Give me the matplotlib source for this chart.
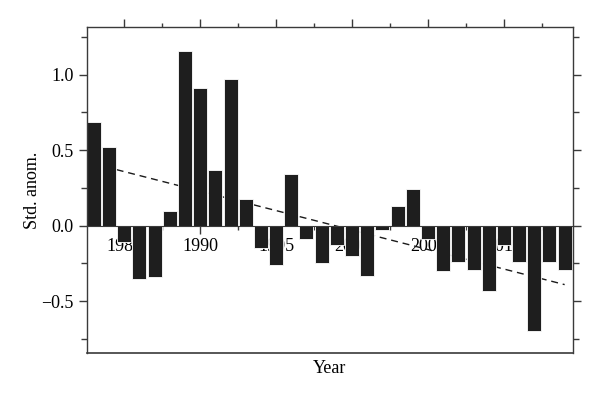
import matplotlib
matplotlib.use("Agg")
import matplotlib.pyplot as plt
from matplotlib.ticker import MultipleLocator

years = list(range(1983, 2015))
anom = [0.69, 0.52, -0.11, -0.35, -0.34, 0.10, 1.16, 0.91, 0.37, 0.97,
        0.18, -0.15, -0.26, 0.34, -0.09, -0.25, -0.13, -0.20, -0.33, -0.03,
        0.13, 0.24, -0.09, -0.30, -0.24, -0.29, -0.43, -0.13, -0.24, -0.70,
        -0.24, -0.29]
trend_years = [1983, 2014]
trend_vals = [0.41, -0.39]

plt.rcParams['font.family'] = ['Liberation Serif', 'DejaVu Serif']
plt.rcParams['font.size'] = 13

fig = plt.figure(figsize=(6.0, 3.95), dpi=100)
ax = fig.add_axes([0.145, 0.1063, 0.81, 0.8253])
ax.set_axisbelow(True)

bar_color = '#1e1e1e'
spine_color = '#3a3a3a'

ax.bar(years, anom, width=0.92, color=bar_color, edgecolor='white',
       linewidth=0.6, zorder=2)
ax.plot(trend_years, trend_vals, color='#1a1a1a', lw=1.0,
        linestyle=(0, (5, 3.5)), zorder=1)

ax.set_xlim(1982.55, 2014.55)
ax.set_ylim(-0.843, 1.316)

for s in ax.spines.values():
    s.set_color(spine_color)
    s.set_linewidth(1.0)
ax.spines['bottom'].set_position(('data', 0))
ax.spines['bottom'].set_linewidth(0.8)
# bottom frame line
ax.plot([0, 1], [0, 0], transform=ax.transAxes, color=spine_color, lw=1.2,
        clip_on=False, zorder=3)

ax.xaxis.set_major_locator(MultipleLocator(5))
ax.xaxis.set_minor_locator(MultipleLocator(2.5))
ax.yaxis.set_major_locator(MultipleLocator(0.5))
ax.yaxis.set_minor_locator(MultipleLocator(0.25))

ax.tick_params(axis='x', which='both', direction='out', top=True,
               bottom=True, labelbottom=True, color=spine_color, pad=3)
ax.tick_params(axis='x', which='major', length=6, width=1)
ax.tick_params(axis='x', which='minor', length=3, width=1)
ax.tick_params(axis='y', which='both', direction='out', left=True,
               right=True, color=spine_color)
ax.tick_params(axis='y', which='major', length=6, width=1)
ax.tick_params(axis='y', which='minor', length=4, width=1)

ax.set_xticks([1985, 1990, 1995, 2000, 2005, 2010])
ax.set_xticklabels(['1985', '1990', '1995', '2000', '2005', '2010'])
ax.set_yticks([-0.5, 0.0, 0.5, 1.0])
ax.set_yticklabels(['\u22120.5', '0.0', '0.5', '1.0'])

ax.set_ylabel('Std. anom.', labelpad=0)
fig.text(0.55, 0.068, 'Year', ha='center', va='center', fontsize=13)

fig.savefig('out.png', dpi=100)
